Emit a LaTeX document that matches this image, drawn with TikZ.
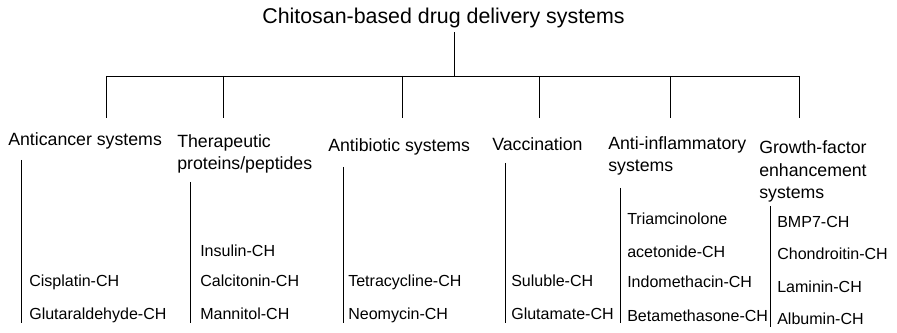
\documentclass[tikz,border=0pt]{standalone}
\usepackage{fontspec}
\setmainfont{Liberation Sans}
\usetikzlibrary{positioning}

\begin{document}
\begin{tikzpicture}[
  x=0.025cm, y=-0.025cm,
  root/.style={font=\fontsize{15.2}{18}\selectfont, inner sep=2.5pt},
  cat/.style={font=\fontsize{12.6}{16}\selectfont, align=left,
              inner sep=0pt, anchor=base west},
  item/.style={font=\fontsize{11.4}{14}\selectfont, inner sep=0pt,
               anchor=base west},
  link/.style={draw=black, line width=0.7pt},
]
  \useasboundingbox (0,0) rectangle (897,333);

  % Root
  \node[root, anchor=base] (title) at (443.5,24) {Chitosan-based drug delivery systems};
  \coordinate (bus) at (454,76);

  % Branches
  \foreach \x [count=\n] in {106,223,402,539,670,799} {
    \coordinate (top\n) at (\x,76);
    \coordinate (drop\n) at (\x,118);
  }

  % Categories (base = last line)
  \node[cat] (anticancer) at (8,146)   {Anticancer systems};
  \node[cat] (proteins)   at (177,170) {Therapeutic\\proteins/peptides};
  \node[cat] (antibiotic) at (328,152) {Antibiotic systems};
  \node[cat] (vaccine)    at (492,151) {Vaccination};
  \node[cat] (inflam)     at (608,172) {Anti-inflammatory\\systems};
  \node[cat] (growth)     at (759,199) {Growth-factor\\enhancement\\systems};

  % Item brackets
  \foreach \x/\t/\b [count=\n] in {21/160/323, 190/182/323, 343/167/323,
                                   505/163/323, 620/188/323, 770/206/327} {
    \coordinate (s\n) at (\x,\t);
    \coordinate (e\n) at (\x,\b);
  }

  % Anticancer
  \node[item] (cis)  at (29,287) {Cisplatin-CH};
  \node[item] (glut) at (29,320) {Glutaraldehyde-CH};

  % Proteins/peptides
  \node[item] (ins)  at (200,257) {Insulin-CH};
  \node[item] (calc) at (200,287) {Calcitonin-CH};
  \node[item] (mann) at (200,320) {Mannitol-CH};

  % Antibiotics
  \node[item] (tetra) at (348,287) {Tetracycline-CH};
  \node[item] (neo)   at (348,320) {Neomycin-CH};

  % Vaccination
  \node[item] (solub) at (511,287) {Suluble-CH};
  \node[item] (glum)  at (511,320) {Glutamate-CH};

  % Anti-inflammatory
  \node[item] (triam) at (627,225) {Triamcinolone};
  \node[item] (aceto) at (627,258) {acetonide-CH};
  \node[item] (indo)  at (627,288) {Indomethacin-CH};
  \node[item] (beta)  at (627,322) {Betamethasone-CH};

  % Growth factor
  \node[item] (bmp)   at (777,228) {BMP7-CH};
  \node[item] (chond) at (777,260) {Chondroitin-CH};
  \node[item] (lam)   at (777,293) {Laminin-CH};
  \node[item] (alb)   at (777,325) {Albumin-CH};

  % Connections
  \draw[link] (title.south -| bus) -- (bus);
  \draw[link] (top1) -- (top6);
  \foreach \n in {1,...,6} {
    \draw[link] (top\n) -- (drop\n);
    \draw[link] (s\n) -- (e\n);
  }
\end{tikzpicture}
\end{document}
